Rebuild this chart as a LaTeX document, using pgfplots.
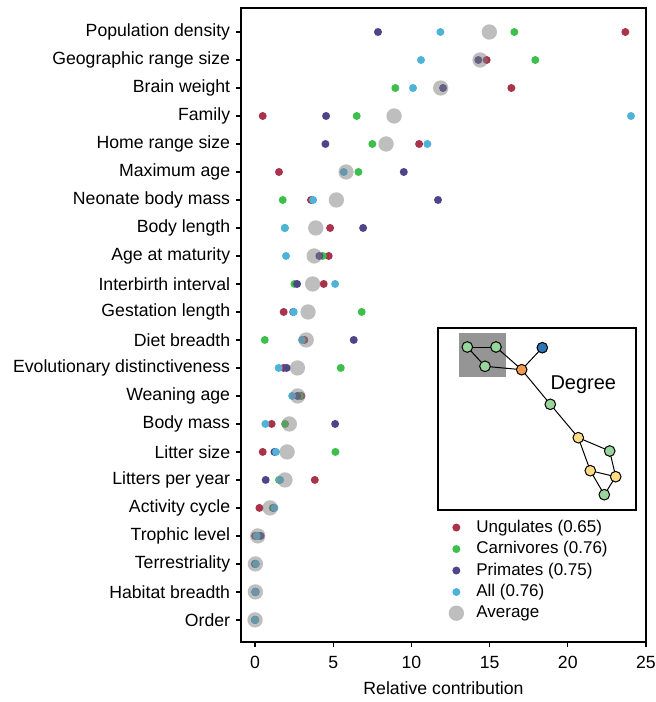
\documentclass[border=0pt]{standalone}
\usepackage{pgfplots}
\pgfplotsset{compat=1.18}
\usepackage{pgfplotstable}
\usepackage{fontspec}
\setmainfont{Liberation Sans}

\definecolor{ung}{HTML}{A8334B}
\definecolor{carn}{HTML}{3DBF4C}
\definecolor{prim}{HTML}{4E4589}
\definecolor{allc}{HTML}{4FB3D8}
\definecolor{avgc}{HTML}{7D7D7D}
\definecolor{ngreen}{HTML}{99D59A}
\definecolor{norange}{HTML}{F49B4B}
\definecolor{nblue}{HTML}{2C74B3}
\definecolor{nyellow}{HTML}{FEDC84}
\definecolor{ngray}{HTML}{959595}

% x = relative contribution, y = row (0 = Population density)
\pgfplotstableread{
x y
23.68 0
14.81 1
16.39 2
0.49 3
10.49 4
1.53 5
3.58 6
4.80 7
4.71 8
4.39 9
1.83 10
3.15 11
1.83 12
2.96 13
1.06 14
0.49 15
3.82 16
0.28 17
0.00 18
0.00 19
0.02 20
0.00 21
}\ungulates
\pgfplotstableread{
x y
16.58 0
17.92 1
8.97 2
6.50 3
7.50 4
6.61 5
1.77 6
1.91 7
4.33 8
2.52 9
6.82 10
0.62 11
5.48 12
2.85 13
1.92 14
5.14 15
1.53 16
1.13 17
0.20 18
0.02 19
0.02 20
0.00 21
}\carnivores
\pgfplotstableread{
x y
7.86 0
14.28 1
12.02 2
4.54 3
4.50 4
9.51 5
11.70 6
6.91 7
4.11 8
2.69 9
2.44 10
6.31 11
2.02 12
2.71 13
5.12 14
1.24 15
0.68 16
1.19 17
0.36 18
0.00 19
0.02 20
0.00 21
}\primates
\pgfplotstableread{
x y
11.85 0
10.61 1
10.10 2
24.04 3
11.02 4
5.67 5
3.71 6
1.90 7
1.98 8
5.12 9
2.47 10
3.00 11
1.51 12
2.37 13
0.66 14
1.34 15
1.60 16
1.24 17
0.10 18
0.05 19
0.02 20
0.00 21
}\allspecies
\pgfplotstableread{
x y
14.98 0
14.39 1
11.87 2
8.89 3
8.38 4
5.82 5
5.20 6
3.88 7
3.78 8
3.68 9
3.39 10
3.27 11
2.71 12
2.72 13
2.19 14
2.05 15
1.91 16
0.96 17
0.17 18
0.02 19
0.02 20
0.00 21
}\average

\begin{document}
\begin{tikzpicture}
% page = reference frame, axis box sits at (0,0)
\useasboundingbox (-144.6pt,-36pt) rectangle (249pt,385.2pt);
\begin{axis}[
  name=main,
  scale only axis,
  width=243pt, height=380.4pt,
  xmin=-0.9, xmax=25,
  ymin=-0.857, ymax=21.79,
  y dir=reverse,
  xtick={0,5,...,25},
  ytick={0,...,21},
  yticklabels={Population density,Geographic range size,Brain weight,Family,Home range size,Maximum age,Neonate body mass,Body length,Age at maturity,Interbirth interval,Gestation length,Diet breadth,Evolutionary distinctiveness,Weaning age,Body mass,Litter size,Litters per year,Activity cycle,Trophic level,Terrestriality,Habitat breadth,Order},
  xtick pos=bottom, ytick pos=left,
  tick align=outside,
  major tick length=3pt,
  axis line style={line width=0.8pt},
  tick style={black, line width=0.8pt},
  /pgf/number format/assume math mode=true,
  tick label style={font=\fontsize{10.6}{12.5}\selectfont},
  xticklabel style={yshift=-2pt},
  label style={font=\fontsize{10.6}{12.5}\selectfont},
  xlabel={Relative contribution},
  xlabel style={yshift=-1pt},
  legend style={draw=none, fill=none, inner sep=0pt,
    font=\fontsize{10.2}{12}\selectfont,
    at={(0.512,0.198)}, anchor=north west, row sep=0pt,
    /tikz/every odd column/.append style={column sep=5.4pt}},
  legend cell align=left,
]
\addplot[only marks, mark=*, mark size=2.4pt, color=ung, mark options={draw opacity=0}] table {\ungulates};
\addlegendentry{Ungulates (0.65)}
\addplot[only marks, mark=*, mark size=2.4pt, color=carn, mark options={draw opacity=0}] table {\carnivores};
\addlegendentry{Carnivores (0.76)}
\addplot[only marks, mark=*, mark size=2.4pt, color=prim, mark options={draw opacity=0}] table {\primates};
\addlegendentry{Primates (0.75)}
\addplot[only marks, mark=*, mark size=2.4pt, color=allc, mark options={draw opacity=0}] table {\allspecies};
\addlegendentry{All (0.76)}
\addplot[only marks, mark=*, mark size=4.6pt, color=avgc, mark options={draw opacity=0, fill opacity=0.5}] table {\average};
\addlegendentry{Average}
\end{axis}

% inset: network graph, coordinates in reference pixels
\begin{axis}[
  at={(118.2pt,79.2pt)}, anchor=south west,
  scale only axis,
  width=118.8pt, height=109.2pt,
  xmin=438, xmax=636, ymin=328, ymax=510,
  y dir=reverse,
  ticks=none,
  axis line style={line width=0.8pt},
  axis background/.style={fill=white},
]
\addplot[fill=ngray, draw=none] coordinates {(459,333) (506,333) (506,376.7) (459,376.7)} -- cycle;
\addplot[black, line width=0.6pt] coordinates {(467.3,347) (496,347)};
\addplot[black, line width=0.6pt] coordinates {(467.3,347) (485,366.3) (521.7,369.7)};
\addplot[black, line width=0.6pt] coordinates {(496,347) (521.7,369.7) (542.3,347.7)};
\addplot[black, line width=0.6pt] coordinates {(521.7,369.7) (550.3,404.3) (578.3,437.7) (609.7,451) (615.7,476.7) (604.3,494.7) (590.3,470.7) (578.3,437.7)};
\addplot[black, line width=0.6pt] coordinates {(590.3,470.7) (615.7,476.7)};
\addplot[only marks, mark=*, mark size=3.2pt, mark options={draw=black, fill=ngreen, line width=0.6pt}] coordinates {(467.3,347) (496,347) (485,366.3) (550.3,404.3) (609.7,451) (604.3,494.7)};
\addplot[only marks, mark=*, mark size=3.2pt, mark options={draw=black, fill=norange, line width=0.6pt}] coordinates {(521.7,369.7)};
\addplot[only marks, mark=*, mark size=3.2pt, mark options={draw=black, fill=nblue, line width=0.6pt}] coordinates {(542.3,347.7)};
\addplot[only marks, mark=*, mark size=3.2pt, mark options={draw=black, fill=nyellow, line width=0.6pt}] coordinates {(578.3,437.7) (590.3,470.7) (615.7,476.7)};
\node[font=\fontsize{12}{14}\selectfont] at (axis cs:583.3,384.3) {Degree};
\end{axis}
\end{tikzpicture}
\end{document}
